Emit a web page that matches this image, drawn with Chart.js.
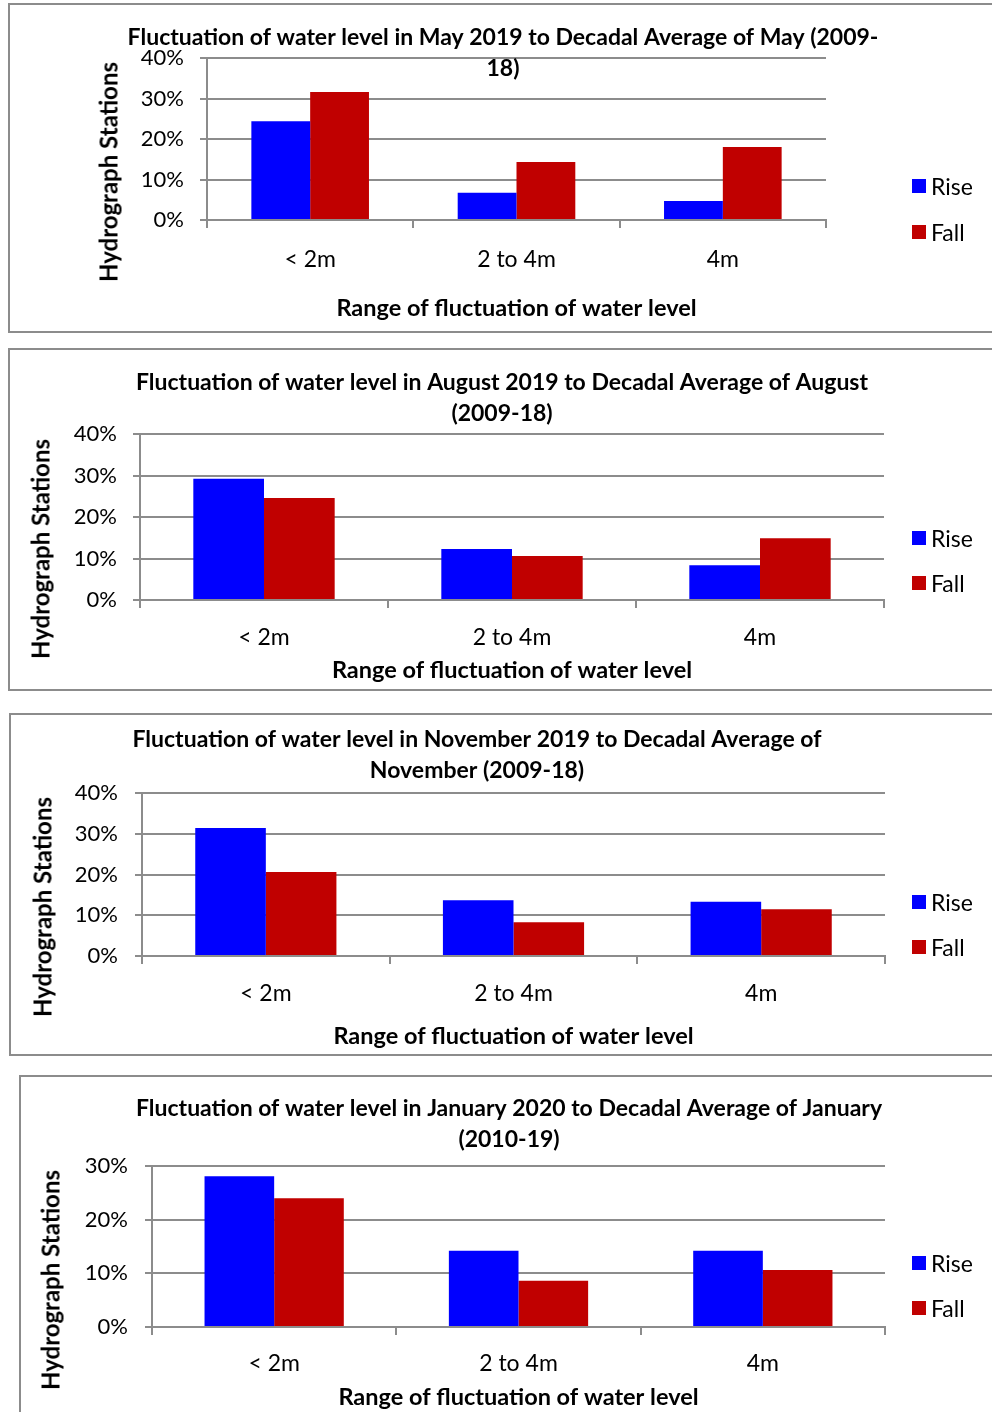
<!DOCTYPE html>
<html>
<head>
<meta charset="utf-8">
<title>Fluctuation of water level</title>
<script src="https://cdn.jsdelivr.net/npm/chart.js@4.4.1/dist/chart.umd.min.js"></script>
<style>
    body {
        margin: 0;
        width: 992px;
        height: 1412px;
        overflow: hidden;
        background: #fff;
        position: relative;
        font-family: Lato, sans-serif;
    }

    .frame {
        position: absolute;
        border: 2px solid #8c8c8c;
        box-sizing: border-box;
        width: 1000px;
    }

    canvas {
        position: absolute;
        left: 0;
    }

    .ytitle {
        position: absolute;
        font: bold 24px Lato, sans-serif;
        white-space: nowrap;
        transform: translate(-50%, -50%) rotate(-90deg);
        color: #000;
    }

    .key {
        position: absolute;
        left: 912px;
        height: 26px;
        display: flex;
        align-items: center;
        font: 23px Lato, sans-serif;
        color: #000;
    }

    .key span.box {
        display: inline-block;
        width: 14px;
        height: 14px;
        margin-right: 5px;
    }
</style>
</head>
<body>
<script>
const categories = ['< 2m', '2 to 4m', '4m'];
const seriesNames = ['Rise', 'Fall'];
const seriesColors = ['#0000ff', '#c00000'];

// percent of hydrograph stations
const mayRise = [24.4, 6.7, 4.7];
const mayFall = [31.6, 14.3, 18.0];
const augRise = [29.2, 12.3, 8.4];
const augFall = [24.6, 10.6, 14.9];
const novRise = [31.4, 13.7, 13.3];
const novFall = [20.6, 8.3, 11.5];
const janRise = [28.1, 14.2, 14.2];
const janFall = [24.0, 8.6, 10.6];

const ticks40 = [0, 10, 20, 30, 40];
const ticks30 = [0, 10, 20, 30];

const titleMay = ['Fluctuation of water level in May 2019 to Decadal Average of May (2009-', '18)'];
const titleAug = ['Fluctuation of water level in August 2019 to Decadal Average of August', '(2009-18)'];
const titleNov = ['Fluctuation of water level in November 2019 to Decadal Average of', 'November (2009-18)'];
const titleJan = ['Fluctuation of water level in January 2020 to Decadal Average of January', '(2010-19)'];

const xAxisTitle = 'Range of fluctuation of water level';
const yAxisTitle = 'Hydrograph Stations';

const gridColor = '#8c8c8c';
const W = 992;

// page positions of each panel
const panels = [
    { top: 0, height: 340, frame: [8, 3, 330], area: [207, 826, 58, 220], titleX: 503, titleY: 38,
      xLabelY: 260, xTitleY: 308, yTitle: [108, 172], keys: [186, 232], labelRight: 184,
      title: titleMay, rise: mayRise, fall: mayFall, ticks: ticks40 },
    { top: 345, height: 350, frame: [8, 348, 343], area: [140, 884, 434, 600], titleX: 502, titleY: 383,
      xLabelY: 638, xTitleY: 670, yTitle: [40, 549], keys: [538, 583], labelRight: 117,
      title: titleAug, rise: augRise, fall: augFall, ticks: ticks40 },
    { top: 710, height: 350, frame: [9, 713, 343], area: [142, 885, 793, 956], titleX: 477, titleY: 740,
      xLabelY: 994, xTitleY: 1036, yTitle: [42, 907], keys: [902, 947], labelRight: 118,
      title: titleNov, rise: novRise, fall: novFall, ticks: ticks40 },
    { top: 1068, height: 344, frame: [19, 1075, 360], area: [152, 885, 1166, 1327], titleX: 509, titleY: 1109,
      xLabelY: 1364, xTitleY: 1397, yTitle: [50, 1280], keys: [1263, 1308], labelRight: 128,
      title: titleJan, rise: janRise, fall: janFall, ticks: ticks30 }
];

function addPanel(p) {
    const frame = document.createElement('div');
    frame.className = 'frame';
    frame.style.left = p.frame[0] + 'px';
    frame.style.top = p.frame[1] + 'px';
    frame.style.height = p.frame[2] + 'px';
    document.body.appendChild(frame);

    const canvas = document.createElement('canvas');
    canvas.width = W;
    canvas.height = p.height;
    canvas.style.top = p.top + 'px';
    document.body.appendChild(canvas);

    const yt = document.createElement('div');
    yt.className = 'ytitle';
    yt.textContent = yAxisTitle;
    yt.style.left = p.yTitle[0] + 'px';
    yt.style.top = p.yTitle[1] + 'px';
    document.body.appendChild(yt);

    seriesNames.forEach(function (name, i) {
        const key = document.createElement('div');
        key.className = 'key';
        key.style.top = (p.keys[i] - 13) + 'px';
        key.innerHTML = '<span class="box" style="background:' + seriesColors[i] + '"></span><span>' + name + '</span>';
        document.body.appendChild(key);
    });

    // work out paddings so the plot area lands where it is in the picture
    const [left, right, top, bottom] = p.area;
    const shift = 2 * p.titleX - W;
    const padL = shift > 0 ? shift : 0;
    const padR = shift < 0 ? -shift : 0;
    const lineH = 31;
    const titleTop = (p.titleY - p.top) - lineH / 2;
    const titleBottom = (top - p.top) - 2 * lineH - titleTop;
    const tickFont = 23;
    const axisFont = 23.5;
    const xTickPad = p.xLabelY - bottom - 8 - tickFont * 1.2 / 2;
    const xHeight = p.xTitleY - bottom + axisFont * 1.2 / 2;
    const padB = p.height - (bottom - p.top) - xHeight;

    new Chart(canvas, {
        type: 'bar',
        data: {
            labels: categories,
            datasets: [
                { label: seriesNames[0], data: p.rise, backgroundColor: seriesColors[0] },
                { label: seriesNames[1], data: p.fall, backgroundColor: seriesColors[1] }
            ]
        },
        options: {
            responsive: false,
            animation: false,
            barPercentage: 1,
            categoryPercentage: 0.57,
            layout: { padding: { left: padL, right: padR, top: 0, bottom: padB } },
            plugins: {
                legend: { display: false },
                tooltip: { enabled: false },
                title: {
                    display: true,
                    text: p.title,
                    color: '#000',
                    font: { family: 'Lato', weight: 'bold', size: 23, lineHeight: lineH / 23 },
                    padding: { top: titleTop, bottom: titleBottom }
                }
            },
            scales: {
                x: {
                    grid: { offset: true, drawOnChartArea: false, drawTicks: true, tickLength: 8, color: gridColor, lineWidth: 2 },
                    border: { color: gridColor, width: 2 },
                    ticks: { color: '#000', font: { family: 'Lato', size: tickFont, lineHeight: 1.2 }, padding: xTickPad, maxRotation: 0 },
                    title: {
                        display: true,
                        text: xAxisTitle,
                        color: '#000',
                        font: { family: 'Lato', weight: 'bold', size: axisFont, lineHeight: 1.2 },
                        padding: { top: 0, bottom: 0 }
                    },
                    afterFit: function (scale) { scale.height = xHeight; }
                },
                y: {
                    min: 0,
                    max: p.ticks[p.ticks.length - 1],
                    grid: { color: gridColor, lineWidth: 2, tickLength: 7 },
                    border: { color: gridColor, width: 2 },
                    ticks: {
                        color: '#000',
                        font: { family: 'Lato', size: 22 },
                        padding: left - 7 - p.labelRight,
                        callback: function (v) { return v + '%'; }
                    },
                    afterBuildTicks: function (scale) {
                        scale.ticks = p.ticks.map(v => ({ value: v }));
                    },
                    afterFit: function (scale) { scale.width = left - padL; }
                },
                yRight: {
                    type: 'linear',
                    position: 'right',
                    grid: { display: false },
                    border: { display: false },
                    ticks: { display: false },
                    afterFit: function (scale) { scale.width = W - padR - right; }
                }
            }
        }
    });
}

document.addEventListener("DOMContentLoaded", function () {
    panels.forEach(addPanel);
});
</script>
</body>
</html>
